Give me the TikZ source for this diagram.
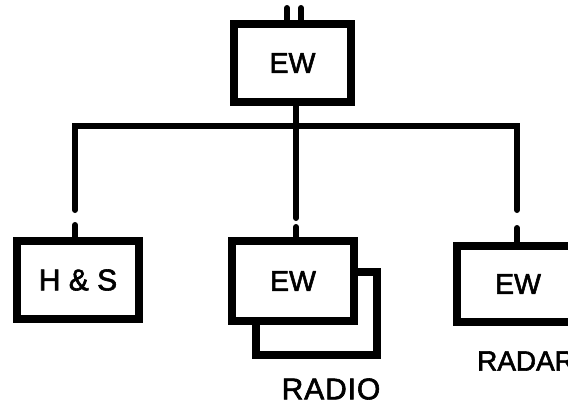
\documentclass[tikz,border=0pt]{standalone}
\usepackage{fontspec}
\setmainfont{Liberation Sans}[FakeBold=2]
\begin{document}
\begin{tikzpicture}[x=1pt,y=-1pt,
  txt/.style={font=\fontsize{30}{32}\selectfont},
  box/.style={draw=black,line width=8pt,fill=white,rectangle,inner sep=0pt,txt},
  conn/.style={draw=black,line width=6pt,line cap=round,line join=miter},
  lbl/.style={txt,inner sep=0pt}]
\clip (0,0) rectangle (568,405);
\fill[white] (0,0) rectangle (568,405);
% boxes
\node[box,minimum width=117pt,minimum height=78pt] (top) at (292.5,63) {\addfontfeature{Scale=0.95}EW};
\node[box,minimum width=122pt,minimum height=78pt] (hs) at (78,280) {H \& S};
\node[box,minimum width=121pt,minimum height=83pt] (back) at (316.5,313.5) {};
\node[box,minimum width=122pt,minimum height=80pt] (mid) at (293,281) {\addfontfeature{Scale=0.95}EW};
\node[box,minimum width=122pt,minimum height=76pt] (rad) at (518,284) {\addfontfeature{Scale=0.95}EW};
% labels
\node[lbl] (radio) at (331,389) {\addfontfeature{LetterSpace=3}RADIO};
\node[lbl,anchor=west] (radar) at (477,361) {\addfontfeature{Scale=0.93}RADAR};
% connector points
\coordinate (s1) at (287,8);
\coordinate (s2) at (301,8);
\coordinate (bm) at (296,126);
\coordinate (gL1) at (75,210);
\coordinate (gL2) at (75,225);
\coordinate (gM1) at (296,218);
\coordinate (gM2) at (296,227);
\coordinate (gR1) at (517,210);
\coordinate (gR2) at (517,228);
% connectors
\draw[conn] (s1) -- (s1 |- top.north);
\draw[conn] (s2) -- (s2 |- top.north);
\draw[conn] (bm |- top.south) -- (gM1);
\draw[conn] (gL1) -- (gL1 |- bm) -- (gR1 |- bm) -- (gR1);
\draw[conn] (gL2) -- (gL2 |- hs.north);
\draw[conn] (gM2) -- (gM2 |- mid.north);
\draw[conn] (gR2) -- (gR2 |- rad.north);
\end{tikzpicture}
\end{document}
